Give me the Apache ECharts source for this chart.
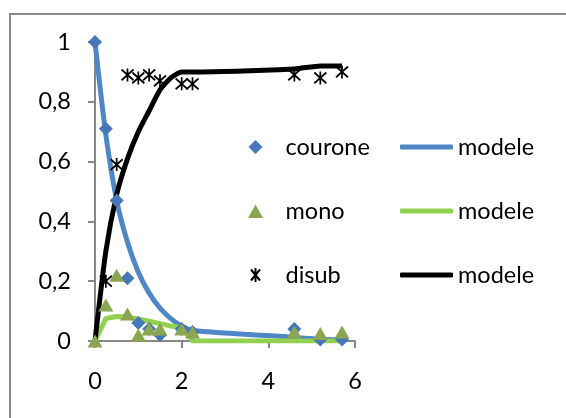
<!DOCTYPE html>
<html><head><meta charset="utf-8">
<script src="https://cdn.jsdelivr.net/npm/echarts@6/dist/echarts.min.js"></script>
<style>html,body{margin:0;padding:0;background:#fff}#c{width:566px;height:418px}</style>
</head><body><div id="c"></div>
<script>
// Measured data
const dataX = [0, 0.25, 0.5, 0.75, 1, 1.25, 1.5, 2, 2.25, 4.6, 5.2, 5.7];
const courone = [1.0, 0.71, 0.47, 0.21, 0.06, 0.04, 0.02, 0.04, 0.03, 0.04, 0.005, 0.005];
const mono = [0, 0.12, 0.22, 0.09, 0.02, 0.04, 0.04, 0.04, 0.03, 0.03, 0.025, 0.03];
const disubX = [0.25, 0.5, 0.75, 1, 1.25, 1.5, 2, 2.25, 4.6, 5.2, 5.7];
const disub = [0.2, 0.59, 0.89, 0.88, 0.89, 0.87, 0.86, 0.86, 0.89, 0.88, 0.9];
const modelX = [0, 0.25, 0.5, 0.75, 1, 1.25, 1.5, 1.75, 2, 2.25, 4.6, 5.2, 5.7];
const modelCourone = [1, 0.69, 0.47, 0.33, 0.23, 0.16, 0.11, 0.075, 0.05, 0.035, 0.012, 0.006, 0.004];
const modelMono = [0, 0.075, 0.082, 0.08, 0.073, 0.066, 0.058, 0.05, 0.045, 0, 0, 0, 0];
const modelDisub = [0, 0.3, 0.49, 0.61, 0.70, 0.77, 0.84, 0.88, 0.90, 0.90, 0.91, 0.92, 0.92];
const xTicks = {min: 0, max: 6, interval: 2};
const yTicks = {min: 0, max: 1, interval: 0.2};

const zip = (xs, ys) => xs.map((x, i) => [x, ys[i]]);
const FONT = 'Lato';
const FS = 23.5;
const axisCol = '#878787';
const star = 'path://M0,0 L10,10 M10,0 L0,10 M5,-1 L5,11';
// legend icons: marker drawn in the middle of a 50x14 box (degenerate end points fix the box)
const pad = ' M0,7 L0,7 M50,7 L50,7';
const lgDiamond = 'path://M18,7 L25,0 L32,7 L25,14 Z' + pad;
const lgTriangle = 'path://M17.5,14 L25,0.5 L32.5,14 Z M0,0 L0,0 M50,0 L50,0';
const lgStar = 'path://M20.5,1.5 L29.5,12.5 M29.5,1.5 L20.5,12.5 M25,0 L25,14' + pad;
const C_BLUE_LINE = '#4F86C6', C_GREEN_LINE = '#92D050', C_BLACK = '#000';

const chart = echarts.init(document.getElementById('c'), null, {renderer: 'canvas'});
chart.setOption({
  animation: false,
  backgroundColor: '#fff',
  textStyle: {fontFamily: FONT},
  graphic: [{type: 'rect', shape: {x: 10, y: 14, width: 800, height: 800},
    style: {fill: 'none', stroke: '#8a8a8a', lineWidth: 2}, silent: true, z: -1}],
  grid: {left: 95, top: 42, width: 260, height: 299, containLabel: false},
  xAxis: {type: 'value', min: xTicks.min, max: xTicks.max, interval: xTicks.interval,
    axisLine: {show: true, lineStyle: {color: axisCol, width: 2}},
    axisTick: {show: true, inside: false, length: 7, lineStyle: {color: axisCol, width: 2}},
    splitLine: {show: false},
    axisLabel: {color: '#000', fontSize: FS, fontFamily: FONT, margin: 28}},
  yAxis: {type: 'value', min: yTicks.min, max: yTicks.max, interval: yTicks.interval,
    axisLine: {show: true, lineStyle: {color: axisCol, width: 2}},
    axisTick: {show: true, inside: false, length: 7, lineStyle: {color: axisCol, width: 2}},
    splitLine: {show: false},
    axisLabel: {color: '#000', fontSize: FS, fontFamily: FONT, margin: 24,
      formatter: v => String(Math.round(v * 10) / 10).replace('.', ',')}},
  legend: [
    {orient: 'vertical', left: 228, top: 135, padding: 0, itemWidth: 50, itemHeight: 14, itemGap: 40,
     selectedMode: false,
     data: [{name: 'courone', icon: lgDiamond}, {name: 'mono', icon: lgTriangle}, {name: 'disub', icon: lgStar}],
     textStyle: {fontSize: FS, color: '#000', fontFamily: FONT}},
    {orient: 'vertical', left: 400, top: 135, padding: 0, itemWidth: 53, itemHeight: 5, itemGap: 40,
     selectedMode: false,
     data: [{name: 'modele', icon: 'roundRect', itemStyle: {color: C_BLUE_LINE}},
            {name: 'modele ', icon: 'roundRect', itemStyle: {color: C_GREEN_LINE}},
            {name: 'modele  ', icon: 'roundRect', itemStyle: {color: C_BLACK}}],
     formatter: n => n.trim(),
     textStyle: {fontSize: FS, color: '#000', fontFamily: FONT}}
  ],
  series: [
    {name: 'modele', type: 'line', data: zip(modelX, modelCourone), symbol: 'none', showSymbol: false,
     smooth: 0.25, lineStyle: {color: C_BLUE_LINE, width: 5}, itemStyle: {color: C_BLUE_LINE}, z: 2},
    {name: 'modele ', type: 'line', data: zip(modelX, modelMono), symbol: 'none', showSymbol: false,
     lineStyle: {color: C_GREEN_LINE, width: 5}, itemStyle: {color: C_GREEN_LINE}, z: 2},
    {name: 'modele  ', type: 'line', data: zip(modelX, modelDisub), symbol: 'none', showSymbol: false,
     smooth: 0.2, lineStyle: {color: C_BLACK, width: 5}, itemStyle: {color: C_BLACK}, z: 2},
    {name: 'courone', type: 'scatter', data: zip(dataX, courone), symbol: 'diamond', symbolSize: 14,
     itemStyle: {color: '#4677B8', opacity: 1}, z: 3},
    {name: 'mono', type: 'scatter', data: zip(dataX, mono), symbol: 'triangle', symbolSize: [15, 13],
     itemStyle: {color: '#8BA651', opacity: 1}, z: 3},
    {name: 'disub', type: 'scatter', data: zip(disubX, disub), symbol: star, symbolSize: [12, 13],
     itemStyle: {color: 'none', borderColor: '#000', borderWidth: 1.8, opacity: 1}, z: 3}
  ]
});
</script></body></html>
